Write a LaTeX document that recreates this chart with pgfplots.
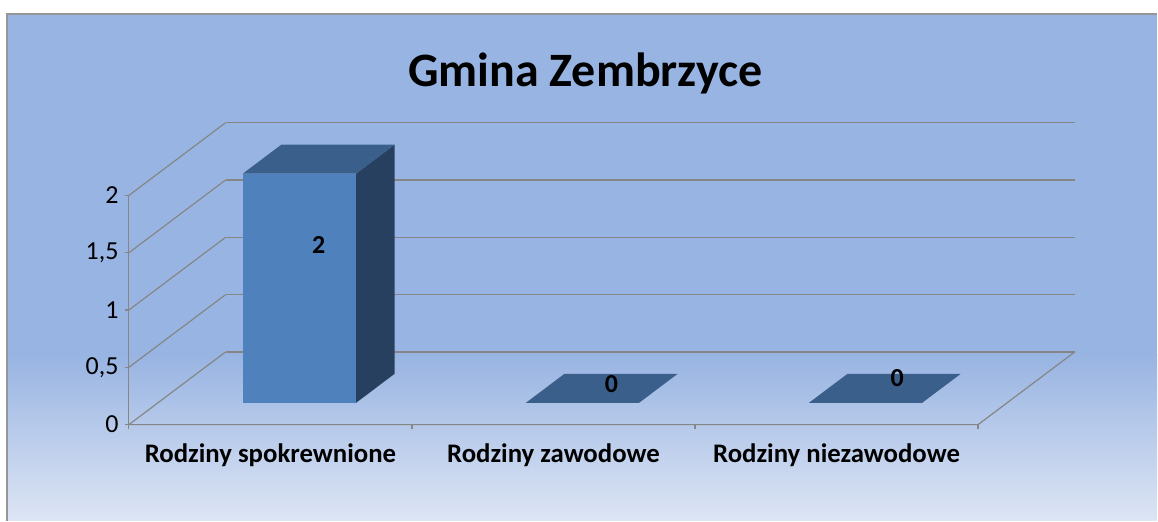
\documentclass[border=0pt]{standalone}
\usepackage{pgfplots}
\pgfplotsset{compat=1.18}
\usepackage{fontspec}
\setmainfont{Carlito}
\usetikzlibrary{backgrounds}
\definecolor{bgtop}{RGB}{152,180,226}
\definecolor{bgbot}{RGB}{221,229,244}
\definecolor{barfront}{RGB}{79,129,189}
\definecolor{bartop}{RGB}{59,95,139}
\definecolor{barside}{RGB}{40,64,96}
\definecolor{gridc}{RGB}{134,134,134}
\definecolor{borderc}{RGB}{150,150,150}
\tikzset{
  ticklab/.style={anchor=east, inner sep=0pt, xshift=-5pt, font=\fontsize{13}{13}\selectfont},
  catlab/.style={anchor=base, yshift=-19pt, font=\bfseries\fontsize{13.4}{13.4}\selectfont},
  datlab/.style={font=\bfseries\fontsize{13}{13}\selectfont},
}
\begin{document}
\begin{tikzpicture}
\begin{axis}[
  x={(141.65pt,0pt)}, y={(48.35pt,36.35pt)}, z={(0pt,57.35pt)},
  xmin=0,xmax=3,ymin=0,ymax=1,zmin=0,zmax=2,
  hide axis, clip=false,
  every axis plot/.append style={line width=0.6pt},
]
\coordinate (O) at (axis cs:0,0,0);
% back wall gridlines
\addplot3[gridc, no marks] coordinates {(0,1,0) (3,1,0)};
\addplot3[gridc, no marks] coordinates {(0,1,0.5) (3,1,0.5)};
\addplot3[gridc, no marks] coordinates {(0,1,1) (3,1,1)};
\addplot3[gridc, no marks] coordinates {(0,1,1.5) (3,1,1.5)};
\addplot3[gridc, no marks] coordinates {(0,1,2) (3,1,2)};
% side wall gridlines
\addplot3[gridc, no marks] coordinates {(0,0,0) (0,1,0)};
\addplot3[gridc, no marks] coordinates {(0,0,0.5) (0,1,0.5)};
\addplot3[gridc, no marks] coordinates {(0,0,1) (0,1,1)};
\addplot3[gridc, no marks] coordinates {(0,0,1.5) (0,1,1.5)};
\addplot3[gridc, no marks] coordinates {(0,0,2) (0,1,2)};
% value axis and ticks
\addplot3[gridc, no marks] coordinates {(0,0,0) (0,0,2)};
\addplot3[gridc, no marks] coordinates {(-0.014,0,0) (0,0,0)};
\addplot3[gridc, no marks] coordinates {(-0.014,0,0.5) (0,0,0.5)};
\addplot3[gridc, no marks] coordinates {(-0.014,0,1) (0,0,1)};
\addplot3[gridc, no marks] coordinates {(-0.014,0,1.5) (0,0,1.5)};
\addplot3[gridc, no marks] coordinates {(-0.014,0,2) (0,0,2)};
% floor
\addplot3[gridc, no marks] coordinates {(0,0,0) (3,0,0) (3,1,0)};
\addplot3[gridc, no marks] coordinates {(0,0,0) (0,0,-0.035)};
\addplot3[gridc, no marks] coordinates {(1,0,0) (1,0,-0.035)};
\addplot3[gridc, no marks] coordinates {(2,0,0) (2,0,-0.035)};
\addplot3[gridc, no marks] coordinates {(3,0,0) (3,0,-0.035)};
% bar 1: value 2
\addplot3[fill=barside, draw=none, no marks] coordinates {(0.7,0.3,0) (0.7,0.7,0) (0.7,0.7,2) (0.7,0.3,2)};
\addplot3[fill=bartop, draw=none, no marks] coordinates {(0.3,0.3,2) (0.7,0.3,2) (0.7,0.7,2) (0.3,0.7,2)};
\addplot3[fill=barfront, draw=none, no marks] coordinates {(0.3,0.3,0) (0.7,0.3,0) (0.7,0.3,2) (0.3,0.3,2)};
% bar 2: value 0
\addplot3[fill=bartop, draw=none, no marks] coordinates {(1.3,0.3,0) (1.7,0.3,0) (1.7,0.7,0) (1.3,0.7,0)};
% bar 3: value 0
\addplot3[fill=bartop, draw=none, no marks] coordinates {(2.3,0.3,0) (2.7,0.3,0) (2.7,0.7,0) (2.3,0.7,0)};
% tick labels
\node[ticklab] at (axis cs:0,0,0) {0};
\node[ticklab] at (axis cs:0,0,0.5) {0,5};
\node[ticklab] at (axis cs:0,0,1) {1};
\node[ticklab] at (axis cs:0,0,1.5) {1,5};
\node[ticklab] at (axis cs:0,0,2) {2};
% category labels
\node[catlab] at (axis cs:0.5,0,0) {Rodziny spokrewnione};
\node[catlab] at (axis cs:1.5,0,0) {Rodziny zawodowe};
\node[catlab] at (axis cs:2.5,0,0) {Rodziny niezawodowe};
% data labels
\node[datlab] at (axis cs:0.5,0.5,1.25) {2};
\node[datlab] at (axis cs:1.534,0.5,0.04) {0};
\node[datlab] at (axis cs:2.544,0.5,0.093) {0};
% title
\node[anchor=base, font=\bfseries\fontsize{24}{24}\selectfont] at (axis cs:1.613,0,2.949) {Gmina Zembrzyce};
\end{axis}
\begin{scope}[on background layer]
\fill[white] ([shift={(-64.5pt,212.5pt)}]O) rectangle ([shift={(514.5pt,-48pt)}]O);
\fill[bgtop] ([shift={(-61pt,205.5pt)}]O) rectangle ([shift={(514.5pt,35pt)}]O);
\shade[top color=bgtop, bottom color=bgbot] ([shift={(-61pt,35.05pt)}]O) rectangle ([shift={(514.5pt,-48pt)}]O);
\draw[borderc, line width=1pt] ([shift={(-60.75pt,-48pt)}]O) -- ([shift={(-60.75pt,205.25pt)}]O) -- ([shift={(514.5pt,205.25pt)}]O);
\end{scope}
\end{tikzpicture}
\end{document}
